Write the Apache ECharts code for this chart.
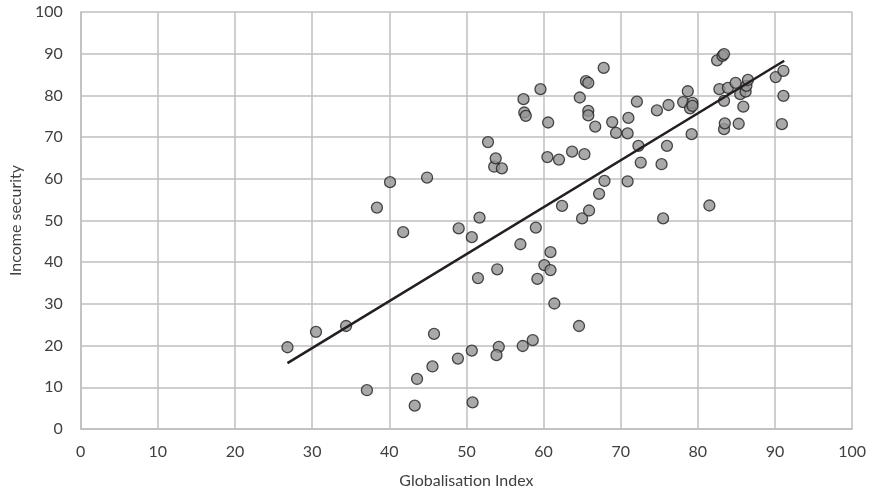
<!DOCTYPE html>
<html>
<head>
<meta charset="utf-8">
<script src="https://cdn.jsdelivr.net/npm/echarts@6/dist/echarts.min.js"></script>
<style>
html, body { margin: 0; padding: 0; background: #fff; }
#chart { width: 869px; height: 496px; }
</style>
</head>
<body>
<div id="chart"></div>
<script>
// globalisation index (x) / income security (y)
var glob_x = [26.8, 30.5, 34.4, 37.1, 38.4, 40.1, 41.8, 44.9, 45.8, 45.6, 43.6, 43.3,
	48.9, 49.0, 50.7, 50.7, 50.8, 51.5, 51.7, 52.8, 53.6, 53.8, 54.6, 54.0, 54.2, 53.9,
	57.0, 57.3, 57.4, 57.5, 57.7, 58.6, 59.0, 59.2, 59.6, 60.1, 60.5, 60.6, 60.9, 60.9, 61.4,
	62.0, 62.4, 63.7, 64.6, 64.7, 65.0, 65.3, 65.5, 65.8, 65.8, 65.8, 65.9, 66.7, 67.2, 67.8,
	67.9, 68.9, 69.4, 70.9, 70.9, 71.0, 72.1, 72.3, 72.6, 74.7, 75.3, 75.5, 76.0, 76.2, 78.1,
	78.7, 79.0, 79.2, 79.3, 79.3, 81.5, 82.5, 82.8, 83.2, 83.4, 83.4, 83.4, 83.5, 83.9, 84.9,
	85.3, 85.5, 85.9, 86.2, 86.3, 86.5, 90.1, 90.9, 91.1, 91.1];
var income_y = [19.6, 23.3, 24.7, 9.3, 53.1, 59.2, 47.2, 60.3, 22.8, 15.0, 12.0, 5.6,
	16.9, 48.1, 46.0, 18.8, 6.4, 36.2, 50.7, 68.8, 62.9, 64.9, 62.5, 38.3, 19.7, 17.7,
	44.3, 19.9, 79.1, 75.9, 75.1, 21.3, 48.3, 36.0, 81.5, 39.3, 65.2, 73.5, 42.4, 38.1, 30.1,
	64.6, 53.5, 66.5, 24.7, 79.5, 50.5, 65.9, 83.4, 83.0, 76.3, 75.2, 52.4, 72.5, 56.4, 86.6,
	59.5, 73.6, 71.0, 70.9, 59.4, 74.6, 78.5, 67.9, 63.9, 76.4, 63.5, 50.5, 67.9, 77.7, 78.4,
	81.0, 76.9, 70.7, 78.2, 77.5, 53.6, 88.4, 81.5, 89.5, 89.9, 78.7, 71.9, 73.3, 81.8, 83.0,
	73.2, 80.3, 77.3, 80.9, 82.3, 83.7, 84.4, 73.1, 85.9, 79.9];
// linear trend line end points
var trend_x = [26.8, 91.2];
var trend_y = [15.8, 88.3];

var x_ticks = [0, 10, 20, 30, 40, 50, 60, 70, 80, 90, 100];
var y_ticks = [0, 10, 20, 30, 40, 50, 60, 70, 80, 90, 100];

function chart_scatter(){
	var my_chart = echarts.init(document.getElementById("chart"));
	var points = [];
	for (var i = 0; i < glob_x.length; i++) {
		points.push([glob_x[i], income_y[i]]);
	}
	var trend = [];
	for (var j = 0; j < trend_x.length; j++) {
		trend.push([trend_x[j], trend_y[j]]);
	}
	var font = "Lato, 'Open Sans', sans-serif";
	var option = {
		animation: false,
		backgroundColor: '#ffffff',
		grid: {
			left: 79,
			right: 15,
			top: 12,
			bottom: 67
		},
		xAxis: {
			type: 'value',
			min: x_ticks[0],
			max: x_ticks[x_ticks.length - 1],
			interval: 10,
			name: 'Globalisation Index',
			nameLocation: 'middle',
			nameGap: 44,
			nameTextStyle: { color: '#404040', fontSize: 16, fontFamily: font },
			axisLine: { show: true, lineStyle: { color: '#bfbfbf', width: 1.5 } },
			axisTick: { show: false },
			axisLabel: { color: '#404040', fontSize: 16, fontFamily: font, margin: 15 },
			splitLine: { show: true, lineStyle: { color: '#bfbfbf', width: 1.5 } }
		},
		yAxis: {
			type: 'value',
			min: y_ticks[0],
			max: y_ticks[y_ticks.length - 1],
			interval: 10,
			name: 'Income security',
			nameLocation: 'middle',
			nameGap: 56,
			nameTextStyle: { color: '#404040', fontSize: 16, fontFamily: font },
			axisLine: { show: true, lineStyle: { color: '#bfbfbf', width: 1.5 } },
			axisTick: { show: false },
			axisLabel: { color: '#404040', fontSize: 16, fontFamily: font, margin: 18 },
			splitLine: { show: true, lineStyle: { color: '#bfbfbf', width: 1.5 } }
		},
		series: [
			{
				name: 'Countries',
				type: 'scatter',
				symbol: 'circle',
				symbolSize: 11,
				itemStyle: {
					color: '#939393',
					borderColor: '#231f20',
					borderWidth: 1.3
				},
				data: points,
				z: 2
			},
			{
				name: 'Trend',
				type: 'line',
				showSymbol: false,
				symbol: 'none',
				lineStyle: { color: '#231f20', width: 2.5 },
				data: trend,
				z: 3
			}
		]
	};
	my_chart.setOption(option);
}

chart_scatter();
</script>
</body>
</html>
